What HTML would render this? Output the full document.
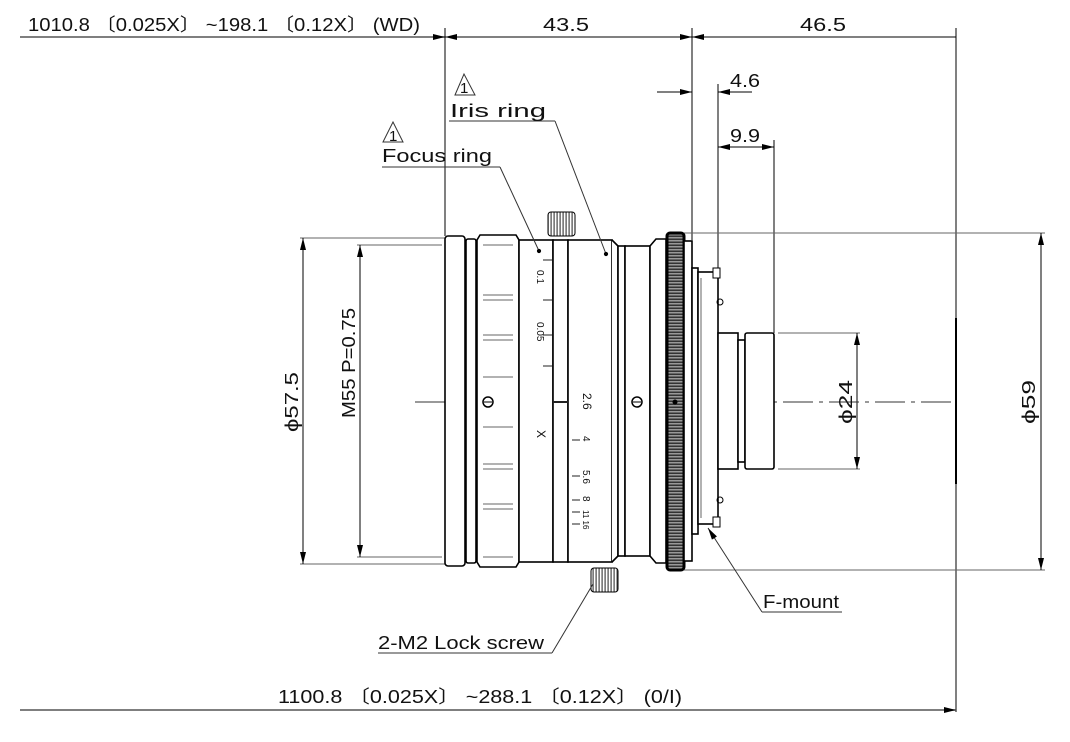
<!DOCTYPE html>
<html><head><meta charset="utf-8"><style>
html,body{margin:0;padding:0;background:#fff;}
svg{display:block;}
text{font-family:"Liberation Sans","Noto Sans CJK JP",sans-serif;fill:#111;}
</style></head><body>
<svg width="1070" height="742" viewBox="0 0 1070 742" xmlns="http://www.w3.org/2000/svg">
<defs>
<marker id="a" viewBox="0 0 12 6" refX="12" refY="3" markerWidth="12" markerHeight="6" orient="auto-start-reverse" markerUnits="userSpaceOnUse"><path d="M0,0 L12,3 L0,6 z" fill="#000"/></marker>
<pattern id="kn" width="20" height="3" patternUnits="userSpaceOnUse"><rect width="20" height="3" fill="#999"/><rect y="1.5" width="20" height="1.5" fill="#333"/></pattern>
<pattern id="sk" width="3" height="20" patternUnits="userSpaceOnUse"><rect width="3" height="20" fill="#fff"/><rect x="1.5" width="1.2" height="20" fill="#444"/></pattern>
</defs>
<g stroke="#000" fill="none" stroke-width="1">
<line x1="20" y1="37" x2="445" y2="37" stroke="#555" stroke-width="1.5" marker-end="url(#a)"/>
<line x1="445" y1="37" x2="692" y2="37" marker-start="url(#a)" marker-end="url(#a)"/>
<line x1="692" y1="37" x2="956" y2="37" marker-start="url(#a)"/>
<line x1="445" y1="28" x2="445" y2="236"/>
<line x1="692" y1="28" x2="692" y2="240"/>
<line x1="956" y1="28" x2="956" y2="712"/>
<line x1="657" y1="92" x2="692" y2="92" marker-end="url(#a)"/>
<line x1="718" y1="92" x2="752" y2="92" marker-start="url(#a)"/>
<line x1="718" y1="84" x2="718" y2="272"/>
<line x1="718" y1="147" x2="774" y2="147" marker-start="url(#a)" marker-end="url(#a)"/>
<line x1="774" y1="140" x2="774" y2="333"/>
<line x1="20" y1="710" x2="956" y2="710" stroke="#555" stroke-width="1.5" marker-end="url(#a)"/>
<line x1="300" y1="238" x2="445" y2="238" stroke="#666"/>
<line x1="300" y1="564" x2="445" y2="564" stroke="#666"/>
<line x1="303" y1="238" x2="303" y2="564" marker-start="url(#a)" marker-end="url(#a)"/>
<line x1="357" y1="245" x2="442" y2="245" stroke="#666"/>
<line x1="357" y1="557" x2="442" y2="557" stroke="#666"/>
<line x1="360" y1="245" x2="360" y2="557" marker-start="url(#a)" marker-end="url(#a)"/>
<line x1="684" y1="233" x2="1045" y2="233" stroke="#666"/>
<line x1="684" y1="570" x2="1045" y2="570" stroke="#666"/>
<line x1="1041" y1="233" x2="1041" y2="570" marker-start="url(#a)" marker-end="url(#a)"/>
<line x1="778" y1="333" x2="860" y2="333" stroke="#666"/>
<line x1="778" y1="469" x2="860" y2="469" stroke="#666"/>
<line x1="857" y1="333" x2="857" y2="469" marker-start="url(#a)" marker-end="url(#a)"/>
<line x1="956" y1="318" x2="956" y2="484" stroke-width="2"/>
<line x1="415" y1="402" x2="956" y2="402" stroke-dasharray="30,6,4,6" stroke="#333"/>

<g stroke-width="1.6" fill="#fff">
<rect x="445" y="236" width="20" height="330" rx="3"/>
<rect x="466" y="239" width="10" height="324" rx="2"/>
<path d="M477,240 L480,235 L516,235 L519,240 L519,562 L516,567 L480,567 L477,562 Z"/>
<rect x="519" y="240" width="34" height="322"/>
<rect x="553" y="240" width="15" height="322"/>
<rect x="568" y="240" width="44" height="322"/>
<path d="M612,240 L618,246 L618,556 L612,562"/>
<rect x="618" y="246" width="7" height="310"/>
<rect x="625" y="246" width="25" height="310"/>
<path d="M650,246 L656,239 L666,239 L666,563 L656,563 L650,556 Z"/>
<rect x="667" y="233" width="17" height="337" rx="3" fill="url(#kn)" stroke-width="3"/>
<rect x="684" y="241" width="8" height="320"/>
<rect x="692" y="268" width="6" height="266"/>
<rect x="698" y="272" width="20" height="252"/>
<rect x="718" y="333" width="20" height="136"/>
<rect x="738" y="340" width="7" height="122"/>
<rect x="745" y="333" width="29" height="136" rx="2"/>
</g>
<g stroke="#666" stroke-width="1">
<line x1="483" y1="245" x2="513" y2="245"/><line x1="483" y1="557" x2="513" y2="557"/>
<line x1="483" y1="295" x2="513" y2="295"/><line x1="483" y1="300" x2="513" y2="300"/>
<line x1="483" y1="335" x2="513" y2="335"/><line x1="483" y1="340" x2="513" y2="340"/>
<line x1="483" y1="377" x2="513" y2="377"/><line x1="483" y1="427" x2="513" y2="427"/>
<line x1="483" y1="464" x2="513" y2="464"/><line x1="483" y1="469" x2="513" y2="469"/>
<line x1="483" y1="504" x2="513" y2="504"/><line x1="483" y1="509" x2="513" y2="509"/>
<line x1="701" y1="278" x2="701" y2="518"/>
</g>
<g stroke="#222">
<line x1="543" y1="260" x2="552" y2="260"/><line x1="543" y1="300" x2="552" y2="300"/>
<line x1="543" y1="335" x2="552" y2="335"/><line x1="543" y1="366" x2="552" y2="366"/>
<line x1="553" y1="402" x2="568" y2="402" stroke-width="2"/>
<line x1="572" y1="440" x2="580" y2="440"/><line x1="572" y1="476" x2="580" y2="476"/>
<line x1="572" y1="500" x2="580" y2="500"/><line x1="572" y1="512" x2="580" y2="512"/>
<line x1="572" y1="524" x2="580" y2="524"/>
</g>
<rect x="548" y="212" width="27" height="24" rx="3" fill="url(#sk)"/>
<rect x="591" y="568" width="27" height="24" rx="3" fill="url(#sk)"/>
<circle cx="488" cy="402" r="5" fill="#fff" stroke-width="1.5"/><line x1="484" y1="402" x2="492" y2="402"/>
<circle cx="637" cy="402" r="5" fill="#fff" stroke-width="1.5"/><line x1="633" y1="402" x2="641" y2="402"/>
<circle cx="675" cy="402" r="2" fill="#000"/>
<rect x="713" y="268" width="7" height="10" fill="#fff"/>
<rect x="713" y="517" width="7" height="10" fill="#fff"/>
<circle cx="720" cy="302" r="3"/><circle cx="720" cy="500" r="3"/>

<g stroke="#333">
<line x1="449" y1="121" x2="555" y2="121"/><line x1="555" y1="121" x2="606" y2="254"/>
<line x1="382" y1="167" x2="500" y2="167"/><line x1="500" y1="167" x2="539" y2="251"/>
<line x1="378" y1="653" x2="552" y2="653"/><line x1="552" y1="653" x2="593" y2="584"/>
<line x1="762" y1="612" x2="842" y2="612"/><line x1="762" y1="612" x2="708" y2="528" marker-end="url(#a)"/>
<path d="M455,95 L464,74 L475,95 Z"/>
<path d="M383,142 L393,122 L403,142 Z"/>
</g>
<circle cx="539" cy="251" r="1.6" fill="#000"/><circle cx="606" cy="254" r="1.6" fill="#000"/>
</g>

<g font-size="18">
<text x="28" y="31" textLength="392" lengthAdjust="spacingAndGlyphs">1010.8 〔0.025X〕 ~198.1 〔0.12X〕 (WD)</text>
<text x="543" y="31" textLength="46" lengthAdjust="spacingAndGlyphs">43.5</text>
<text x="800" y="31" textLength="46" lengthAdjust="spacingAndGlyphs">46.5</text>
<text x="730" y="87" textLength="30" lengthAdjust="spacingAndGlyphs">4.6</text>
<text x="730" y="142" textLength="30" lengthAdjust="spacingAndGlyphs">9.9</text>
<text x="450" y="117" textLength="96" lengthAdjust="spacingAndGlyphs">Iris ring</text>
<text x="382" y="162" textLength="110" lengthAdjust="spacingAndGlyphs">Focus ring</text>
<text x="378" y="649" textLength="166" lengthAdjust="spacingAndGlyphs">2-M2 Lock screw</text>
<text x="763" y="608" textLength="76" lengthAdjust="spacingAndGlyphs">F-mount</text>
<text x="278" y="703" textLength="404" lengthAdjust="spacingAndGlyphs">1100.8 〔0.025X〕 ~288.1 〔0.12X〕 (0/I)</text>
<text transform="translate(298,432) rotate(-90)" textLength="60" lengthAdjust="spacingAndGlyphs">ϕ57.5</text>
<text transform="translate(355,418) rotate(-90)" textLength="110" lengthAdjust="spacingAndGlyphs">M55 P=0.75</text>
<text transform="translate(852,424) rotate(-90)" textLength="44" lengthAdjust="spacingAndGlyphs">ϕ24</text>
<text transform="translate(1035,424) rotate(-90)" textLength="44" lengthAdjust="spacingAndGlyphs">ϕ59</text>
<text x="460" y="93" font-size="15">1</text>
<text x="389" y="141" font-size="15">1</text>
</g>
<g font-size="10">
<text transform="translate(537,270) rotate(90)">0.1</text>
<text transform="translate(537,322) rotate(90)">0.05</text>
<text transform="translate(537,430) rotate(90)" font-size="12">X</text>
<text transform="translate(583,393) rotate(90)" font-size="12">2.6</text>
<text transform="translate(583,436) rotate(90)">4</text>
<text transform="translate(583,470) rotate(90)">5.6</text>
<text transform="translate(583,496) rotate(90)">8</text>
<text transform="translate(583,510) rotate(90)" font-size="8">11 16</text>
</g>
</svg>
</body></html>
